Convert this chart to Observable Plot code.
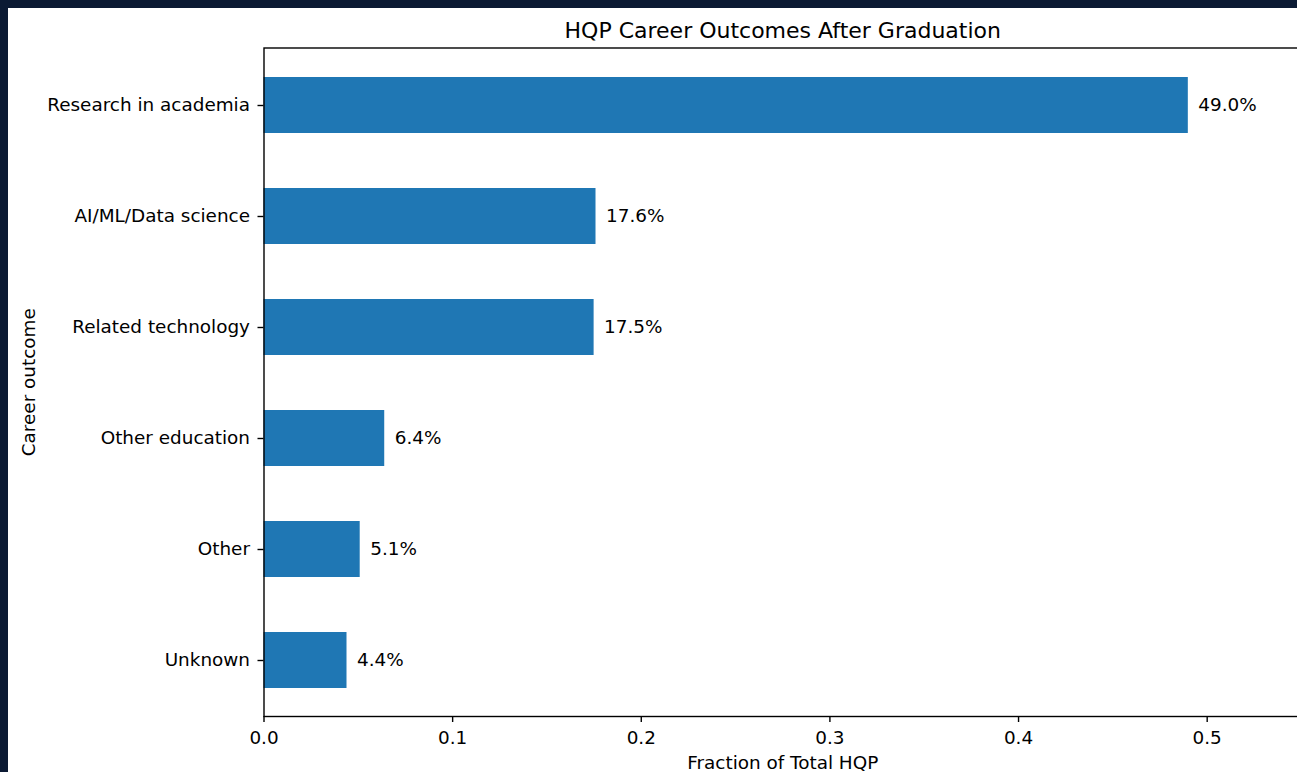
<!DOCTYPE html>
<html>
<head>
<meta charset="utf-8">
<script src="https://cdn.jsdelivr.net/npm/d3@7"></script>
<script src="https://cdn.jsdelivr.net/npm/@observablehq/plot@0.6"></script>
<style>
  html, body { margin: 0; padding: 0; background: #0b1a33; overflow: hidden; width: 1297px; height: 772px; }
  #chart { position: absolute; left: 8px; top: 8px; width: 1300px; height: 764px; }
  #chart svg { max-width: none !important; width: 1300px !important; height: 764px !important; display: block; }
</style>
</head>
<body>
<div id="chart"></div>
<script>
const title = "HQP Career Outcomes After Graduation";
const xLabel = "Fraction of Total HQP";
const yLabel = "Career outcome";
const categories = ["Research in academia", "AI/ML/Data science", "Related technology", "Other education", "Other", "Unknown"];
const values = [0.490, 0.176, 0.175, 0.064, 0.051, 0.044];
const xTicks = [0, 0.1, 0.2, 0.3, 0.4, 0.5];

const data = categories.map((c, i) => ({category: c, value: values[i]}));

const chart = Plot.plot({
  width: 1300,
  height: 764,
  marginLeft: 255.5,
  marginTop: 39.5,
  marginBottom: 56,
  marginRight: 7,
  style: {fontFamily: "DejaVu Sans", fontSize: "18.4px", color: "black", background: "white"},
  x: {domain: [0, 0.55], label: null},
  y: {domain: categories, paddingInner: 0.5, paddingOuter: 0.25, label: null},
  marks: [
    Plot.barX(data, {x: "value", y: "category", fill: "#1f77b4"}),
    Plot.text(data, {x: "value", y: "category", text: d => (d.value * 100).toFixed(1) + "%", textAnchor: "start", dx: 10, fill: "black"}),
    Plot.frame({stroke: "black", strokeWidth: 1.4}),
    Plot.axisX({ticks: xTicks, tickFormat: d => d.toFixed(1), tickSize: 6, tickPadding: 8, strokeWidth: 1.4, label: null}),
    Plot.axisY({tickSize: 6, tickPadding: 8, strokeWidth: 1.4, label: null}),
    Plot.text([title], {frameAnchor: "top", dy: -17, fontSize: "22px", lineAnchor: "middle", textAnchor: "middle", fill: "black"}),
    Plot.text([xLabel], {frameAnchor: "bottom", dy: 46.5, lineAnchor: "middle", textAnchor: "middle", fill: "black"}),
    Plot.text([yLabel], {frameAnchor: "left", dx: -235, rotate: -90, lineAnchor: "middle", textAnchor: "middle", fill: "black"})
  ]
});
document.getElementById("chart").appendChild(chart);
</script>
</body>
</html>
